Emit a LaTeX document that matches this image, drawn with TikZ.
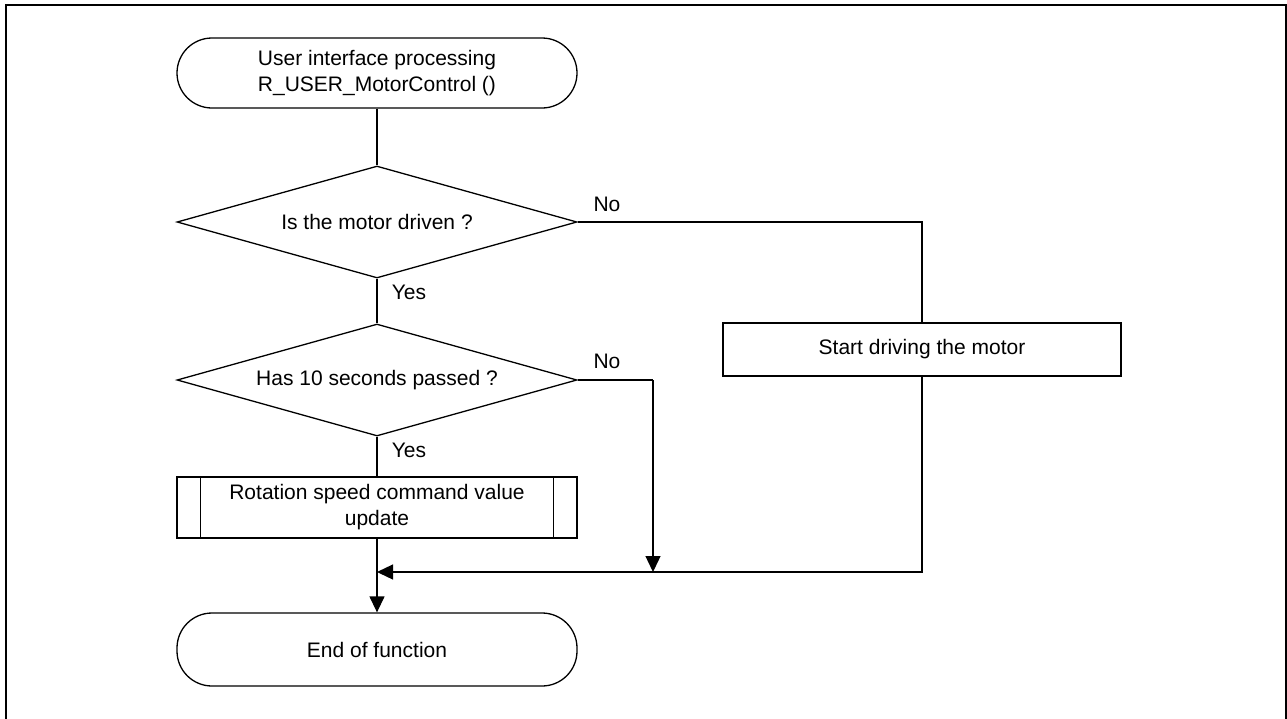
\documentclass[tikz,border=0pt]{standalone}
\usepackage{fontspec}
\setmainfont{Liberation Sans}
\usetikzlibrary{shapes.geometric,arrows.meta,calc}
\begin{document}
\begin{tikzpicture}[x=1pt,y=-1pt,
  every node/.style={font=\fontsize{21}{26}\selectfont, inner sep=0pt},
  ln/.style={line width=1.3pt},
  arr/.style={ln,-{Triangle[length=16pt,width=15pt]}},
  term/.style={draw, ln, rectangle, rounded corners=35pt, minimum width=400pt, minimum height=70pt, align=center},
  dec/.style={draw, ln, diamond, aspect=3.57, minimum width=400pt, minimum height=112pt},
  proc/.style={draw, ln, rectangle, minimum width=398pt, minimum height=53pt},
  subp/.style={draw, ln, rectangle, minimum width=400pt, minimum height=61pt, align=center},
  lbl/.style={anchor=center}]
\useasboundingbox (0,0) rectangle (1287,718);
\fill[white] (0,0) rectangle (1287,718);
\draw[line width=2.5pt] (6,730) -- (6,5) -- (1286,5) -- (1286,730);

\node[term] (start) at (377,73) {User interface processing\\R\_USER\_MotorControl ()};
\node[dec] (d1) at (377,222) {Is the motor driven ?};
\node[dec] (d2) at (377,380) {Has 10 seconds passed ?};
\node[subp] (sub) at (377,507.5) {Rotation speed command value\\update};
\draw[ln] ($(sub.north west)+(24,0)$) -- ($(sub.south west)+(24,0)$);
\draw[ln] ($(sub.north east)+(-24,0)$) -- ($(sub.south east)+(-24,0)$);
\node[term, minimum height=73pt] (end) at (377,649.5) {End of function};
\node[proc] (drv) at (922,349.5) {Start driving the motor};

\coordinate (j) at (377,572);
\coordinate (c1) at (922,222);
\coordinate (c2) at (653,380);
\coordinate (c2b) at (653,572);
\coordinate (c3) at (922,572);

\draw[ln] (start) -- (d1);
\draw[ln] (d1) -- (d2);
\draw[ln] (d2) -- (sub);
\draw[arr] (sub) -- (end);
\draw[ln] (d1.east) -- (c1) -- (drv.north);
\draw[ln] (drv.south) -- (c3) -- (c2b);
\draw[arr] (c2b) -- (j);
\draw[ln] (d2.east) -- (c2);
\draw[arr] (c2) -- (c2b);

\node[lbl] (n1) at (607,204) {No};
\node[lbl] (y1) at (409,292) {Yes};
\node[lbl] (n2) at (607,361) {No};
\node[lbl] (y2) at (409,450) {Yes};
\end{tikzpicture}
\end{document}
